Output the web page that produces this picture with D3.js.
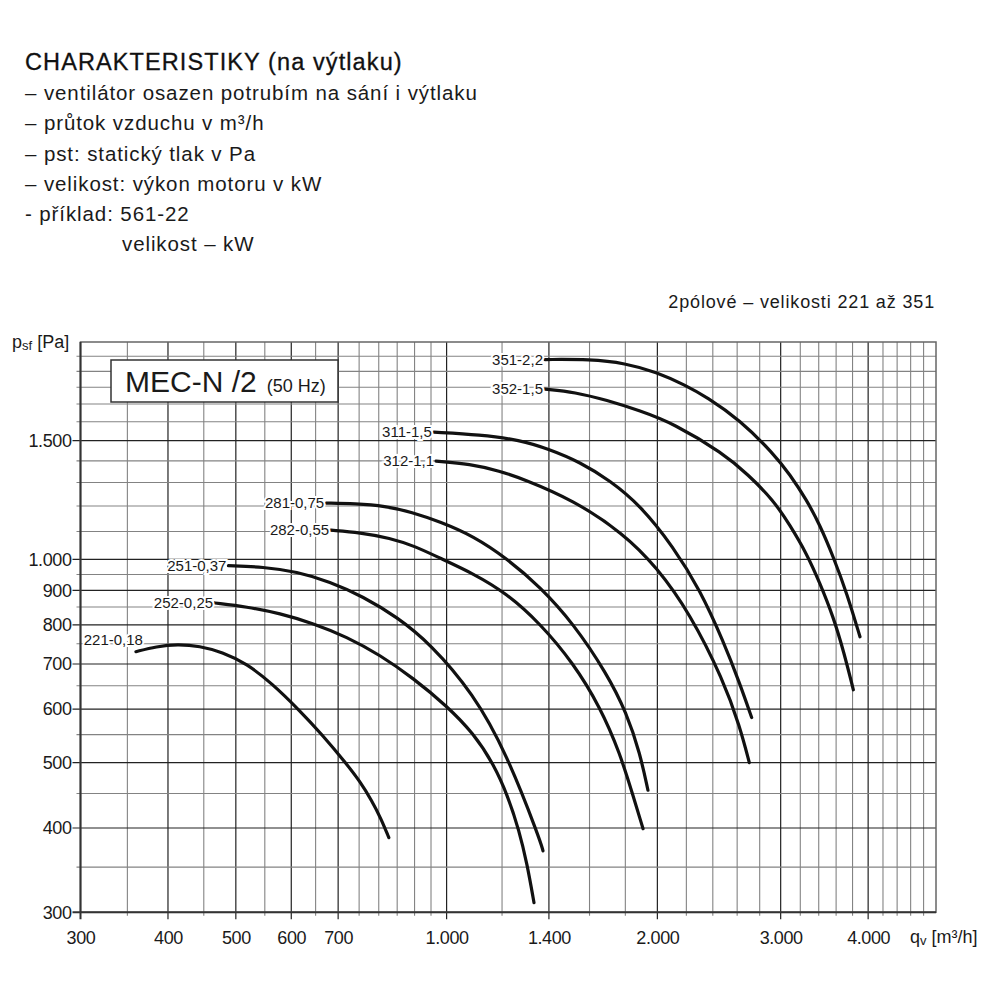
<!DOCTYPE html>
<html>
<head>
<meta charset="utf-8">
<script src="https://cdn.jsdelivr.net/npm/d3@7"></script>
<style>
  body { margin: 0; background: #fff; }
  svg { font-family: "Liberation Sans", Arial, Helvetica, sans-serif; }
</style>
</head>
<body>
<svg id="chart" width="1000" height="1000"></svg>
<script>
// fan curves: airflow qv [m3/h] and pressure psf [Pa]
const curveNames = ["221-0,18", "252-0,25", "251-0,37", "282-0,55", "281-0,75",
                    "312-1,1", "311-1,5", "352-1,5", "351-2,2"];

const q221 = [360, 385, 413, 444, 478, 518, 563, 614, 664, 717, 752, 782, 806, 827];
const p221 = [730, 743, 749, 744, 729, 701, 655, 600, 550, 500, 469, 439, 413, 387];

const q252 = [467, 518, 578, 645, 720, 803, 896, 1000, 1092, 1169, 1223, 1269, 1303, 1333];
const p252 = [862, 851, 832, 804, 768, 722, 667, 607, 553, 496, 446, 397, 354, 310];

const q251 = [488, 547, 611, 681, 760, 849, 947, 1092, 1218, 1360, 1373];
const p251 = [979, 975, 959, 927, 881, 822, 751, 633, 516, 384, 370];

const q282 = [684, 752, 830, 902, 979, 1092, 1218, 1360, 1517, 1656, 1769, 1848, 1908];
const p282 = [1105, 1096, 1076, 1046, 1004, 953, 891, 804, 702, 605, 516, 445, 399];

const q281 = [673, 740, 817, 892, 979, 1092, 1218, 1360, 1517, 1693, 1808, 1889, 1939];
const p281 = [1212, 1210, 1200, 1175, 1137, 1083, 1004, 911, 804, 678, 592, 516, 455];

const q312 = [966, 1080, 1192, 1287, 1517, 1788, 1995, 2226, 2484, 2624, 2706];
const p312 = [1399, 1385, 1352, 1316, 1225, 1093, 975, 832, 663, 565, 500];

const q311 = [959, 1116, 1273, 1400, 1551, 1711, 1889, 2108, 2301, 2484, 2624, 2727];
const p311 = [1544, 1531, 1503, 1457, 1394, 1309, 1204, 1044, 901, 757, 654, 583];

const q352 = [1382, 1525, 1693, 1889, 2108, 2484, 2694, 2928, 3093, 3267, 3414, 3567, 3693, 3810];
const p352 = [1788, 1770, 1722, 1661, 1591, 1436, 1336, 1225, 1124, 1021, 922, 822, 729, 641];

const q351 = [1382, 1603, 1798, 1995, 2190, 2353, 2624, 2928, 3093, 3267, 3414, 3567, 3733, 3894];
const p351 = [1978, 1980, 1954, 1895, 1813, 1740, 1609, 1436, 1336, 1225, 1124, 1009, 889, 768];

const qSeries = [q221, q252, q251, q282, q281, q312, q311, q352, q351];
const pSeries = [p221, p252, p251, p282, p281, p312, p311, p352, p351];

// axis labels
const xTickValues = [300, 400, 500, 600, 700, 1000, 1400, 2000, 3000, 4000];
const yTickValues = [300, 400, 500, 600, 700, 800, 900, 1000, 1500];

const headerLines = [
  "– ventilátor osazen potrubím na sání i výtlaku",
  "– průtok vzduchu v m³/h",
  "– pst: statický tlak v Pa",
  "– velikost: výkon motoru v kW",
  "- příklad: 561-22"
];

// layout
const plotLeft = 80.5, plotRight = 936, plotTop = 342, plotBottom = 912.3;

const svg = d3.select("#chart");

const x = d3.scaleLog().domain([300, 5000]).range([plotLeft, plotRight]);
const y = d3.scaleLog().domain([300, 2100]).range([plotBottom, plotTop]);

const fmt = d3.formatLocale({ decimal: ",", thousands: ".", grouping: [3], currency: ["", ""] }).format(",");

// header text
svg.append("text")
  .attr("x", 25).attr("y", 70)
  .attr("font-size", 23.5).attr("letter-spacing", 1.1)
  .attr("fill", "#111")
  .attr("stroke", "#111").attr("stroke-width", 0.3)
  .text("CHARAKTERISTIKY (na výtlaku)");

svg.selectAll(".hline")
  .data(headerLines)
  .join("text")
  .attr("class", "hline")
  .attr("x", 25)
  .attr("y", (d, i) => 100 + i * 30.3)
  .attr("font-size", 20.5)
  .attr("letter-spacing", 0.9)
  .attr("fill", "#1a1a1a")
  .text(d => d);

svg.append("text")
  .attr("x", 122).attr("y", 251)
  .attr("font-size", 20.5).attr("letter-spacing", 0.9).attr("fill", "#1a1a1a")
  .text("velikost – kW");

svg.append("text")
  .attr("x", 935).attr("y", 308)
  .attr("text-anchor", "end")
  .attr("font-size", 18).attr("letter-spacing", 0.85).attr("fill", "#1a1a1a")
  .text("2pólové – velikosti 221 až 351");

// grid
const xGrid = d3.range(350, 1000, 50).concat(d3.range(1000, 5000, 200));
const yGrid = d3.range(350, 1000, 50).concat(d3.range(1000, 2100, 100));

const grid = svg.append("g");

grid.selectAll(".vx")
  .data(xGrid)
  .join("line")
  .attr("x1", d => x(d)).attr("x2", d => x(d))
  .attr("y1", plotTop)
  .attr("y2", d => plotBottom + (xTickValues.includes(d) ? 7 : 3.5))
  .attr("stroke", d => xTickValues.includes(d) ? "#222" : "#838383")
  .attr("stroke-width", d => xTickValues.includes(d) ? 1.2 : 1.1);

grid.selectAll(".hy")
  .data(yGrid)
  .join("line")
  .attr("y1", d => y(d)).attr("y2", d => y(d))
  .attr("x1", d => plotLeft - (yTickValues.includes(d) ? 8 : 4))
  .attr("x2", plotRight)
  .attr("stroke", d => yTickValues.includes(d) ? "#222" : "#838383")
  .attr("stroke-width", d => yTickValues.includes(d) ? 1.2 : 1.1);

// frame
svg.append("rect")
  .attr("x", plotLeft).attr("y", plotTop)
  .attr("width", plotRight - plotLeft).attr("height", plotBottom - plotTop)
  .attr("fill", "none").attr("stroke", "#666").attr("stroke-width", 1.5);

svg.append("line")
  .attr("x1", plotLeft).attr("x2", plotLeft).attr("y1", plotTop).attr("y2", plotBottom + 7)
  .attr("stroke", "#333").attr("stroke-width", 2);
svg.append("line")
  .attr("x1", plotLeft - 8).attr("x2", plotRight).attr("y1", plotBottom).attr("y2", plotBottom)
  .attr("stroke", "#333").attr("stroke-width", 2);

// axes: labels only
const xAxis = d3.axisBottom(x).tickValues(xTickValues).tickFormat(fmt).tickSize(0).tickPadding(19);
const yAxis = d3.axisLeft(y).tickValues(yTickValues).tickFormat(fmt).tickSize(0).tickPadding(9);

const gx = svg.append("g").attr("transform", `translate(0,${plotBottom})`).call(xAxis);
const gy = svg.append("g").attr("transform", `translate(${plotLeft},0)`).call(yAxis);
[gx, gy].forEach(g => {
  g.select(".domain").remove();
  g.selectAll("text")
    .attr("font-family", "Liberation Sans, Arial, sans-serif")
    .attr("font-size", 18)
    .attr("letter-spacing", -0.4)
    .attr("fill", "#1a1a1a");
});

// axis titles
const yTitle = svg.append("text").attr("x", 12).attr("y", 348).attr("fill", "#1a1a1a").attr("font-size", 18);
yTitle.append("tspan").text("p");
yTitle.append("tspan").attr("font-size", 13).attr("dy", 2).text("sf");
yTitle.append("tspan").attr("dy", -2).text(" [Pa]");

const xTitle = svg.append("text").attr("x", 910).attr("y", 943).attr("fill", "#1a1a1a").attr("font-size", 18);
xTitle.append("tspan").text("q");
xTitle.append("tspan").attr("font-size", 13).attr("dy", 2).text("v");
xTitle.append("tspan").attr("dy", -2).text(" [m³/h]");

// model box
svg.append("rect")
  .attr("x", 111).attr("y", 360).attr("width", 227).attr("height", 42)
  .attr("fill", "#fff").attr("stroke", "#333").attr("stroke-width", 1.5);
const boxText = svg.append("text").attr("x", 125).attr("y", 392).attr("fill", "#1a1a1a");
boxText.append("tspan").attr("font-size", 30).text("MEC-N /2");
boxText.append("tspan").attr("font-size", 18).attr("dx", 10).text("(50 Hz)");

// curves
const line = d3.line()
  .x(d => x(d[0]))
  .y(d => y(d[1]))
  .curve(d3.curveBasis);

const curves = curveNames.map((name, i) => ({
  name: name,
  pts: qSeries[i].map((q, j) => [q, pSeries[i][j]])
}));

svg.append("g")
  .selectAll("path")
  .data(curves)
  .join("path")
  .attr("d", d => line(d.pts))
  .attr("fill", "none")
  .attr("stroke", "#111")
  .attr("stroke-width", 3.2)
  .attr("stroke-linecap", "round");

// curve labels, right-aligned at the start of each curve (first one sits above)
svg.append("g")
  .selectAll("text")
  .data(curves)
  .join("text")
  .attr("x", (d, i) => x(d.pts[0][0]) + (i === 0 ? 7 : -2))
  .attr("y", (d, i) => y(d.pts[0][1]) + (i === 0 ? -12 : 0))
  .attr("dy", "0.35em")
  .attr("text-anchor", "end")
  .attr("font-size", 15)
  .attr("fill", "#1a1a1a")
  .attr("stroke", "#fff")
  .attr("stroke-width", 4)
  .attr("paint-order", "stroke")
  .text(d => d.name);
</script>
</body>
</html>
